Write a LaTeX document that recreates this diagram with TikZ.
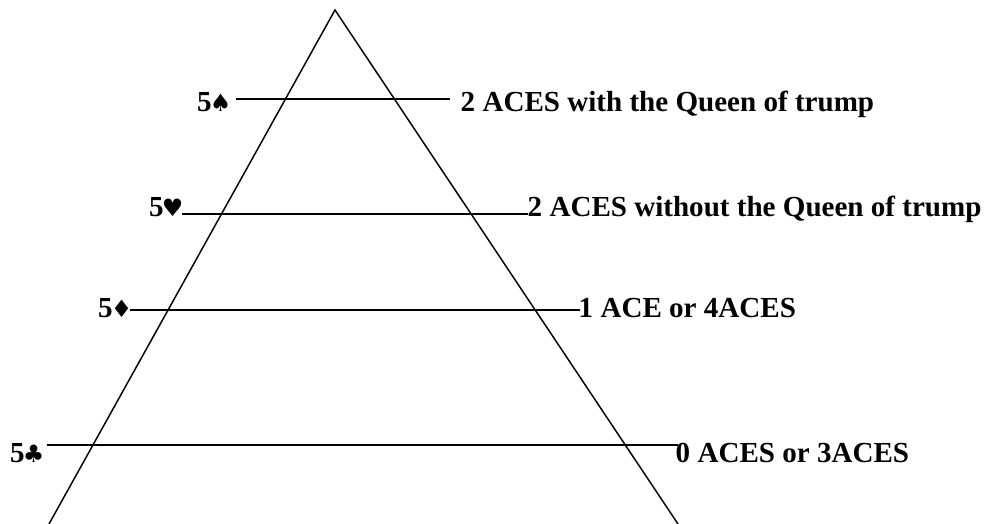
\documentclass[tikz,border=0pt]{standalone}
\usepackage{fontspec}
\setmainfont{Liberation Serif}
\newfontfamily\suitfont{DejaVu Sans}
\usetikzlibrary{positioning}

\tikzset{every picture/.style={line width=1.1pt}}
\tikzset{lbl/.style={inner sep=0pt,font=\fontsize{21.8}{26}\selectfont\bfseries}}
\newcommand{\suit}[1]{{\kern-1.5pt\suitfont\fontsize{18}{22}\selectfont #1}}

\begin{document}
\begin{tikzpicture}[x=0.75pt,y=0.75pt,yscale=-1,xscale=1]
	\useasboundingbox (0,0) rectangle (988,524);

	%Shape: Triangle
	\draw    (49,524) -- (335,10) -- (678,524) ;
	%Straight Lines
	\draw    (236,99) -- (450,99) ;
	%Straight Lines
	\draw    (182,214) -- (528,214) ;
	%Straight Lines
	\draw    (130,310) -- (580,310) ;
	%Straight Lines
	\draw    (47,445) -- (678,445) ;

	% Text Node
	\draw (232,112) node [lbl,anchor=base east] (spadeL) {5\suit{♠}};
	% Text Node
	\draw (460,112) node [lbl,anchor=base west] (spadeR) {2 ACES with the Queen of trump};
	% Text Node
	\draw (184,216) node [lbl,anchor=base east] (heartL) {5\suit{♥}};
	% Text Node
	\draw (133,317) node [lbl,anchor=base east] (diamL) {5\suit{♦}};
	% Text Node
	\draw (527,216) node [lbl,anchor=base west] (heartR) {2 ACES without the Queen of trump};
	% Text Node
	\draw (578,317) node [lbl,anchor=base west] (diamR) {1 ACE or 4ACES};
	% Text Node
	\draw (45,462) node [lbl,anchor=base east] (clubL) {5\suit{♣}};
	% Text Node
	\draw (675,462) node [lbl,anchor=base west] (clubR) {0 ACES or 3ACES};

\end{tikzpicture}
\end{document}
